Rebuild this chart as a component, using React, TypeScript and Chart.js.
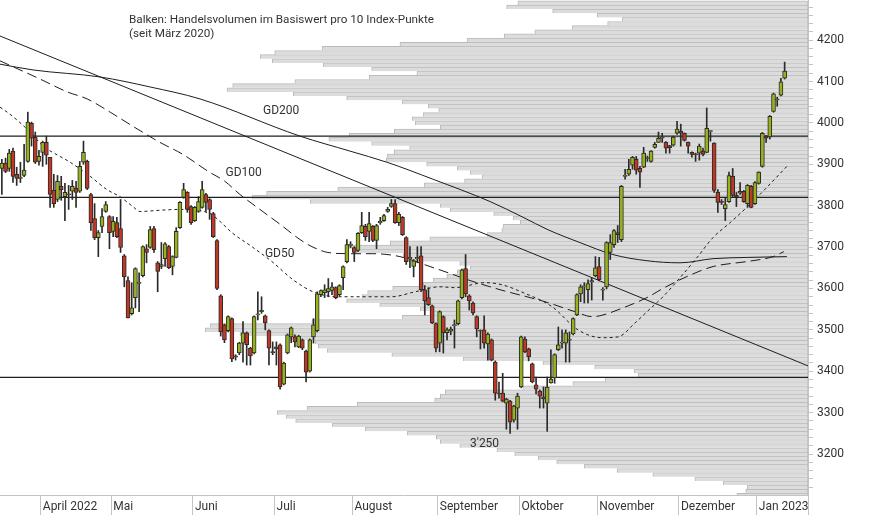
import React, { useEffect, useRef } from 'react';
import { Chart, registerables } from 'chart.js';

Chart.register(...registerables);

// ---------- Candles (Euro Stoxx 50, daily, from mid-March 2022) ----------
const OPEN = [
  3890, 3903, 3890, 3932, 3876, 3866, 3873, 3907, 3999, 3965,
  3907, 3929, 3953, 3917, 3837, 3815, 3847, 3822, 3828, 3835,
  3842, 3835, 3905, 3907, 3827, 3769, 3723, 3750, 3786, 3774,
  3738, 3759, 3745, 3679, 3619, 3539, 3578, 3612, 3631, 3696,
  3699, 3745, 3662, 3653, 3672, 3701, 3653, 3675, 3747, 3820,
  3832, 3798, 3764, 3786, 3796, 3827, 3815, 3781, 3716, 3582,
  3512, 3498, 3527, 3437, 3444, 3468, 3493, 3456, 3444, 3536,
  3544, 3534, 3498, 3447, 3459, 3464, 3369, 3444, 3483, 3483,
  3459, 3476, 3449, 3400, 3483, 3498, 3585, 3590, 3592, 3595,
  3602, 3585, 3626, 3665, 3704, 3699, 3692, 3735, 3750, 3738,
  3750, 3716, 3759, 3764, 3786, 3798, 3805, 3759, 3772, 3723,
  3672, 3653, 3672, 3679, 3597, 3578, 3558, 3515, 3468, 3532,
  3493, 3497, 3510, 3515, 3578, 3648, 3582, 3565, 3532, 3499,
  3500, 3466, 3476, 3422, 3347, 3347, 3323, 3328, 3282, 3311,
  3362, 3478, 3454, 3418, 3367, 3352, 3338, 3323, 3372, 3384,
  3452, 3468, 3468, 3475, 3490, 3536, 3587, 3604, 3597, 3616,
  3631, 3653, 3596, 3604, 3687, 3706, 3735, 3718, 3871, 3876,
  3898, 3912, 3890, 3893, 3914, 3907, 3941, 3953, 3963, 3953,
  3945, 3946, 3975, 3980, 3975, 3953, 3929, 3925, 3927, 3932,
  3929, 3979, 3951, 3832, 3810, 3793, 3810, 3871, 3825, 3830,
  3835, 3805, 3847, 3805, 3854, 3895, 3968, 3966, 4028, 4056,
  4067, 4108,
];
const HIGH = [
  3912, 3915, 3936, 3939, 3893, 3905, 3948, 4026, 4002, 3978,
  3934, 3956, 3968, 3917, 3876, 3873, 3871, 3854, 3849, 3861,
  3859, 3907, 3956, 3910, 3830, 3805, 3740, 3793, 3810, 3776,
  3774, 3772, 3815, 3682, 3628, 3614, 3650, 3638, 3703, 3706,
  3750, 3750, 3665, 3711, 3711, 3704, 3679, 3747, 3810, 3854,
  3834, 3800, 3798, 3822, 3859, 3830, 3817, 3784, 3718, 3585,
  3514, 3534, 3529, 3440, 3470, 3520, 3495, 3458, 3534, 3592,
  3580, 3536, 3500, 3471, 3471, 3466, 3422, 3490, 3507, 3488,
  3487, 3478, 3451, 3478, 3527, 3592, 3597, 3609, 3624, 3614,
  3604, 3609, 3655, 3718, 3713, 3701, 3735, 3784, 3755, 3784,
  3752, 3755, 3772, 3779, 3796, 3815, 3815, 3784, 3774, 3725,
  3701, 3670, 3701, 3701, 3607, 3602, 3560, 3517, 3546, 3534,
  3505, 3507, 3524, 3572, 3647, 3682, 3585, 3568, 3534, 3500,
  3534, 3493, 3478, 3425, 3374, 3395, 3335, 3330, 3318, 3347,
  3485, 3483, 3456, 3420, 3386, 3355, 3362, 3386, 3452, 3442,
  3507, 3500, 3500, 3495, 3529, 3587, 3609, 3614, 3621, 3626,
  3677, 3675, 3602, 3713, 3730, 3742, 3752, 3849, 3888, 3912,
  3919, 3919, 3895, 3941, 3920, 3933, 3953, 3978, 3975, 3955,
  3946, 3968, 4004, 3997, 3976, 3954, 3930, 3927, 3949, 3939,
  4036, 3981, 3952, 3839, 3815, 3820, 3881, 3890, 3832, 3856,
  3837, 3851, 3849, 3858, 3882, 3977, 3970, 4018, 4072, 4062,
  4108, 4147,
];
const LOW = [
  3827, 3880, 3883, 3856, 3849, 3856, 3870, 3905, 3944, 3902,
  3898, 3895, 3900, 3796, 3796, 3810, 3813, 3764, 3791, 3815,
  3796, 3832, 3900, 3839, 3740, 3718, 3677, 3735, 3784, 3696,
  3725, 3723, 3687, 3604, 3529, 3536, 3553, 3544, 3628, 3662,
  3697, 3687, 3592, 3648, 3653, 3648, 3633, 3674, 3745, 3818,
  3784, 3755, 3762, 3784, 3794, 3786, 3767, 3723, 3597, 3485,
  3469, 3495, 3423, 3427, 3440, 3422, 3415, 3415, 3442, 3524,
  3540, 3500, 3415, 3440, 3415, 3357, 3367, 3442, 3469, 3459,
  3457, 3452, 3374, 3398, 3468, 3495, 3580, 3578, 3580, 3585,
  3575, 3582, 3597, 3662, 3699, 3665, 3689, 3733, 3716, 3713,
  3713, 3696, 3755, 3762, 3784, 3796, 3757, 3752, 3728, 3658,
  3650, 3628, 3662, 3592, 3536, 3559, 3515, 3447, 3447, 3444,
  3476, 3488, 3456, 3512, 3575, 3580, 3548, 3536, 3483, 3454,
  3456, 3427, 3425, 3330, 3335, 3326, 3260, 3250, 3277, 3260,
  3360, 3445, 3425, 3372, 3345, 3311, 3311, 3255, 3371, 3371,
  3450, 3456, 3422, 3422, 3488, 3534, 3568, 3565, 3565, 3572,
  3628, 3618, 3572, 3599, 3670, 3699, 3711, 3713, 3864, 3873,
  3888, 3876, 3844, 3892, 3907, 3905, 3939, 3953, 3953, 3927,
  3927, 3944, 3972, 3944, 3956, 3927, 3917, 3907, 3910, 3920,
  3928, 3956, 3832, 3784, 3803, 3764, 3808, 3822, 3798, 3827,
  3808, 3796, 3795, 3803, 3852, 3893, 3953, 3961, 4026, 4040,
  4065, 4106,
];
const CLOSE = [
  3903, 3883, 3927, 3871, 3866, 3869, 3886, 4002, 3963, 3905,
  3919, 3953, 3922, 3827, 3805, 3859, 3839, 3832, 3826, 3847,
  3832, 3895, 3929, 3842, 3759, 3723, 3735, 3774, 3803, 3735,
  3762, 3725, 3699, 3628, 3529, 3553, 3648, 3615, 3701, 3687,
  3742, 3694, 3641, 3658, 3708, 3650, 3677, 3738, 3808, 3839,
  3791, 3759, 3796, 3810, 3839, 3808, 3791, 3725, 3600, 3495,
  3476, 3532, 3430, 3434, 3468, 3493, 3464, 3437, 3532, 3539,
  3547, 3517, 3456, 3445, 3454, 3362, 3420, 3488, 3505, 3471,
  3485, 3456, 3398, 3476, 3512, 3587, 3595, 3597, 3600, 3604,
  3578, 3607, 3653, 3706, 3707, 3687, 3733, 3752, 3725, 3757,
  3716, 3752, 3762, 3776, 3791, 3805, 3759, 3779, 3730, 3665,
  3675, 3667, 3675, 3597, 3570, 3561, 3517, 3456, 3544, 3493,
  3500, 3502, 3513, 3570, 3645, 3587, 3570, 3541, 3502, 3497,
  3468, 3490, 3427, 3347, 3345, 3328, 3333, 3277, 3316, 3340,
  3483, 3447, 3435, 3374, 3357, 3340, 3333, 3362, 3381, 3440,
  3464, 3470, 3493, 3477, 3527, 3585, 3604, 3606, 3612, 3619,
  3650, 3621, 3598, 3711, 3711, 3740, 3730, 3847, 3873, 3888,
  3917, 3886, 3881, 3927, 3916, 3932, 3948, 3963, 3965, 3939,
  3940, 3966, 3985, 3975, 3958, 3944, 3924, 3923, 3944, 3924,
  3987, 3981, 3837, 3808, 3808, 3803, 3873, 3825, 3822, 3835,
  3810, 3849, 3796, 3856, 3881, 3975, 3963, 4016, 4070, 4058,
  4099, 4125,
];

// ---------- X axis: trading-day index where each month starts ----------
const MONTH_START = [11, 30, 52, 74, 95, 118, 140, 161, 183, 204];
const MONTH_LABELS = ['April 2022', 'Mai', 'Juni', 'Juli', 'August', 'September', 'Oktober', 'November', 'Dezember', 'Jan 2023'];

// ---------- Volume profile: volume per 10 index points (from 3100 upwards) ----------
const VOL_FIRST_LEVEL = 3100;
const VOL_LEVEL_STEP = 10;
const VOL = [
  8.8, 7.7, 7.5, 10.5, 14.0, 19.2, 23.6, 27.7, 31.1, 33.4,
  36.3, 38.5, 43.1, 45.5, 46.0, 49.6, 54.8, 58.9, 63.4, 64.6,
  65.7, 62.0, 55.8, 46.2, 45.5, 44.9, 35.3, 29.1, 25.1, 21.0,
  21.5, 26.4, 32.8, 42.7, 51.5, 59.5, 60.6, 61.0, 64.1, 70.3,
  74.6, 74.0, 61.4, 50.2, 46.8, 48.0, 53.0, 57.1, 55.2, 54.5,
  51.4, 47.6, 46.4, 44.7, 43.4, 41.8, 43.1, 49.5, 50.1, 56.3,
  57.3, 51.7, 46.8, 39.7, 37.9, 37.7, 35.6, 36.5, 38.9, 44.3,
  45.5, 61.6, 68.8, 67.0, 58.2, 47.5, 42.5, 40.3, 41.8, 43.4,
  47.2, 52.2, 52.1, 51.2, 49.3, 54.0, 59.3, 56.8, 51.2, 45.5,
  48.6, 49.0, 47.6, 45.7, 47.0, 50.2, 57.1, 63.7, 71.9, 71.2,
  63.5, 54.3, 48.4, 54.0, 60.0, 66.3, 67.8, 66.0, 60.1, 50.5,
  42.2, 37.6, 33.8, 29.2, 24.8, 23.0, 26.1, 31.6, 37.3, 35.9,
];
const VOL_MAX = 100;

// ---------- Moving averages (read at sample points: trading-day index / value) ----------
const GD200_X = [-0.5, 8.4, 26.5, 39.9, 53.4, 80.4, 93.8, 103.8, 116.2, 131.6, 140.5, 147.2, 155.8, 164.7, 173.9, 182.8, 191.7, 200.8, 211.6];
const GD200_Y = [4142, 4128, 4111, 4087, 4058, 3968, 3932, 3905, 3864, 3810, 3772, 3742, 3711, 3682, 3667, 3662, 3672, 3675, 3677];
const GD100_X = [-0.5, 10.3, 17.6, 23, 29.2, 35.3, 42.6, 48.8, 55.6, 60.1, 64.2, 68.8, 75, 80.4, 83.6, 87.9, 93.8, 100, 107.3, 115.4, 120.3, 125.6, 134.3, 146.4, 154.5, 159.1, 161.2, 167.4, 173.9, 178.2, 184.7, 191.7, 200.8, 207.9, 210.8];
const GD100_Y = [4150, 4106, 4075, 4058, 4026, 3992, 3953, 3924, 3883, 3859, 3827, 3796, 3755, 3718, 3701, 3687, 3684, 3684, 3677, 3653, 3638, 3621, 3597, 3568, 3544, 3532, 3534, 3553, 3578, 3600, 3629, 3653, 3665, 3677, 3689];
const GD50_X = [-0.5, 2.2, 7.6, 11.1, 15.7, 18.4, 23.8, 28.3, 31.8, 35.3, 37.2, 42.6, 48, 56.1, 58.8, 62, 67.4, 72.8, 78.5, 84.4, 90.6, 105.2, 110.5, 118.1, 122.1, 130.2, 134.8, 140.5, 148.3, 155.3, 161.8, 166.1, 170.7, 173.9, 178.2, 182.8, 187.4, 191.7, 196.3, 200.8, 205.2, 211.6];
const GD50_Y = [4038, 4021, 3978, 3944, 3919, 3905, 3871, 3839, 3822, 3798, 3786, 3789, 3791, 3781, 3762, 3735, 3701, 3665, 3621, 3590, 3580, 3580, 3590, 3604, 3602, 3614, 3609, 3590, 3556, 3500, 3481, 3483, 3517, 3544, 3580, 3626, 3675, 3723, 3759, 3796, 3835, 3895];

// ---------- Trend line and horizontal levels ----------
const TREND_X = [-0.5, 217.3];
const TREND_Y = [4210, 3413];
const LEVELS = [3968, 3820, 3385];

// ---------- Axes ----------
const X_MIN = -0.5;
const X_MAX = 217.3;
const Y_MIN = 3101;
const Y_MAX = 4297;
const Y_LABELS = [3200, 3300, 3400, 3500, 3600, 3700, 3800, 3900, 4000, 4100, 4200];
const Y_MINOR_STEP = 20;

// ---------- Texts ----------
const TITLE_LINES = ['Balken: Handelsvolumen im Basiswert pro 10 Index-Punkte', '(seit März 2020)'];
const NOTES = [
  { text: 'GD200', x: 70.4, y: 4021 },
  { text: 'GD100', x: 60.3, y: 3872 },
  { text: 'GD50', x: 70.9, y: 3675 },
  { text: "3'250", x: 126.2, y: 3216 },
];

const FONT = 'Roboto, "Open Sans", sans-serif';
const TEXT_COLOR = '#333333';
const UP_COLOR = '#97b21f';
const DOWN_COLOR = '#bd3826';
const EDGE_COLOR = '#2a2a2a';
const LINE_COLOR = '#1e1e1e';
const AXIS_COLOR = '#c4c4c4';

export default function App() {
  const ref = useRef<HTMLCanvasElement | null>(null);

  useEffect(() => {
    const canvas = ref.current;
    if (!canvas) return;

    const idx = OPEN.map((_, i) => i);
    const wickData = idx.map((i) => ({ x: i, y: [LOW[i], HIGH[i]] }));
    const bodyData = idx.map((i) => ({ x: i, y: [OPEN[i], CLOSE[i]] }));
    const bodyColors = idx.map((i) => (CLOSE[i] >= OPEN[i] ? UP_COLOR : DOWN_COLOR));
    const volData = VOL.map((v, i) => ({ x: v, y: VOL_FIRST_LEVEL + i * VOL_LEVEL_STEP }));
    const pts = (xs: number[], ys: number[]) => xs.map((x, i) => ({ x, y: ys[i] }));

    const lineDs = (label: string, data: any[], dash: number[], width = 1, order = 5) => ({
      type: 'line' as const,
      label,
      data,
      xAxisID: 'x',
      yAxisID: 'y',
      borderColor: LINE_COLOR,
      borderWidth: width,
      borderDash: dash,
      pointRadius: 0,
      cubicInterpolationMode: 'monotone' as const,
      fill: false,
      order,
    });

    const notesPlugin = {
      id: 'notes',
      afterDatasetsDraw(chart: any) {
        const { ctx, chartArea, scales } = chart;
        ctx.save();
        ctx.fillStyle = TEXT_COLOR;
        ctx.textAlign = 'left';
        ctx.textBaseline = 'alphabetic';
        ctx.font = `11.7px ${FONT}`;
        TITLE_LINES.forEach((t, i) => ctx.fillText(t, chartArea.left + 129, chartArea.top + 23 + i * 13.5));
        ctx.font = `12px ${FONT}`;
        NOTES.forEach((n) => ctx.fillText(n.text, scales.x.getPixelForValue(n.x), scales.y.getPixelForValue(n.y)));
        ctx.restore();
      },
    };

    const yTicks: { value: number }[] = [];
    for (let v = Math.ceil(Y_MIN / Y_MINOR_STEP) * Y_MINOR_STEP; v <= Y_MAX; v += Y_MINOR_STEP) yTicks.push({ value: v });

    const chart = new Chart(canvas, {
      type: 'bar',
      data: {
        datasets: [
          {
            type: 'bar',
            label: 'Volumen',
            indexAxis: 'y',
            xAxisID: 'xv',
            yAxisID: 'yv',
            data: volData,
            backgroundColor: '#dcdcdc',
            borderColor: '#bababa',
            borderWidth: 1,
            borderSkipped: 'bottom',
            barPercentage: 1,
            categoryPercentage: 1,
            grouped: false,
            order: 10,
          } as any,
          lineDs('GD200', pts(GD200_X, GD200_Y), []),
          lineDs('GD100', pts(GD100_X, GD100_Y), [10, 5]),
          lineDs('GD50', pts(GD50_X, GD50_Y), [3, 3]),
          lineDs('Trend', pts(TREND_X, TREND_Y), []),
          ...LEVELS.map((l) => lineDs('Level ' + l, pts([X_MIN, X_MAX], [l, l]), [], 1.3, 4)),
          {
            type: 'bar',
            label: 'Docht',
            data: wickData,
            xAxisID: 'x',
            yAxisID: 'y',
            backgroundColor: EDGE_COLOR,
            barThickness: 1,
            grouped: false,
            order: 2,
          } as any,
          {
            type: 'bar',
            label: 'Körper',
            data: bodyData,
            xAxisID: 'x',
            yAxisID: 'y',
            backgroundColor: bodyColors,
            borderColor: EDGE_COLOR,
            borderWidth: 1,
            borderSkipped: false,
            barThickness: 4,
            minBarLength: 1,
            grouped: false,
            order: 1,
          } as any,
        ],
      },
      options: {
        responsive: false,
        animation: false,
        devicePixelRatio: 1,
        layout: { padding: 0, autoPadding: false },
        plugins: { legend: { display: false }, tooltip: { enabled: false } },
        scales: {
          x: {
            type: 'linear',
            position: 'bottom',
            min: X_MIN,
            max: X_MAX,
            offset: false,
            afterBuildTicks: (s: any) => {
              s.ticks = [...MONTH_START.map((m) => ({ value: m - 0.5 })), { value: X_MAX }];
            },
            afterFit: (s: any) => {
              s.height = 20;
              s.paddingLeft = 0;
              s.paddingRight = 0;
            },
            grid: { offset: false, drawOnChartArea: false, drawTicks: true, tickLength: 20, color: AXIS_COLOR, lineWidth: 1 },
            border: { display: true, color: AXIS_COLOR },
            ticks: {
              autoSkip: false,
              maxRotation: 0,
              align: 'start',
              labelOffset: 2,
              padding: -15,
              color: TEXT_COLOR,
              font: { family: FONT, size: 12 },
              callback: (value: any) => {
                const k = MONTH_START.findIndex((m) => Math.abs(m - 0.5 - Number(value)) < 1e-6);
                return k >= 0 ? MONTH_LABELS[k] : '';
              },
            },
          },
          y: {
            type: 'linear',
            position: 'right',
            min: Y_MIN,
            max: Y_MAX,
            afterBuildTicks: (s: any) => {
              s.ticks = yTicks.map((t) => ({ value: t.value }));
            },
            afterFit: (s: any) => {
              s.width = 66;
              s.paddingTop = 0;
              s.paddingBottom = 0;
            },
            grid: { drawOnChartArea: false, drawTicks: true, tickLength: 5, color: AXIS_COLOR },
            border: { display: true, color: AXIS_COLOR },
            ticks: {
              autoSkip: false,
              padding: 4,
              color: TEXT_COLOR,
              font: { family: FONT, size: 12 },
              callback: (value: any) => (Y_LABELS.includes(Number(value)) ? String(value) : ''),
            },
          },
          xv: { type: 'linear', display: false, reverse: true, min: 0, max: VOL_MAX, offset: false },
          yv: { type: 'linear', display: false, min: Y_MIN, max: Y_MAX, offset: false, grid: { offset: false } },
        },
      } as any,
      plugins: [notesPlugin],
    } as any);

    return () => chart.destroy();
  }, []);

  return (
    <div style={{ position: 'absolute', left: 0, top: 0, width: 874, height: 515, background: '#ffffff' }}>
      <canvas ref={ref} width={874} height={515} style={{ width: 874, height: 515, display: 'block' }} />
    </div>
  );
}
